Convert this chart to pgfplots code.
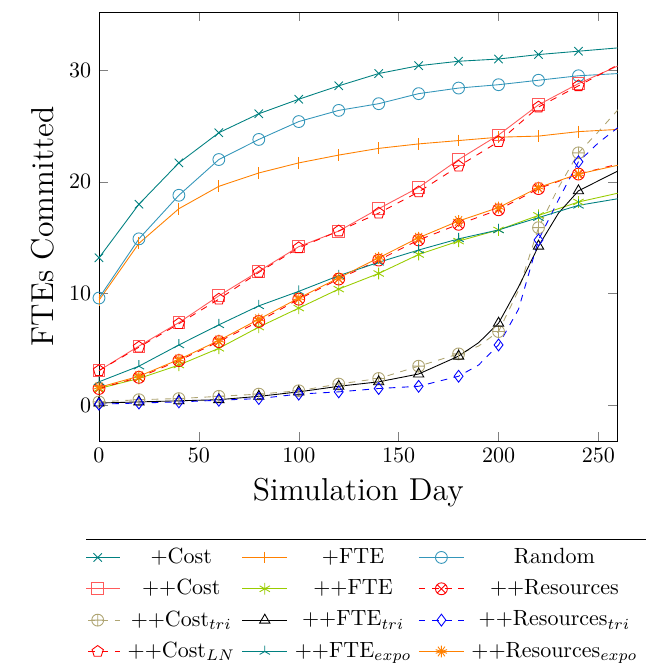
\documentclass[border=0pt]{standalone}
\usepackage{pgfplots}
\pgfplotsset{compat=1.18}
\definecolor{randblue}{RGB}{52,150,186}
\definecolor{olivetri}{RGB}{175,165,115}
\definecolor{costred}{RGB}{255,90,90}

\begin{document}
\begin{tikzpicture}
\begin{scope}
% the legend is cut at the sides and bottom, as in the original
\clip (-45pt,200.5pt) -- (251.8pt,200.5pt) -- (251.8pt,-40.5pt)
      -- (248.6pt,-40.5pt) -- (248.6pt,-101.8pt)
      -- (-5.9pt,-101.8pt) -- (-5.9pt,-40.5pt) -- (-45pt,-40.5pt) -- cycle;
\begin{axis}[
    at={(0pt,0pt)}, anchor=south west,
    scale only axis,
    width=235.8pt, height=195pt,
    xmin=0, xmax=259.6,
    ymin=-3.2, ymax=35.2,
    xtick={0,50,100,150,200,250},
    ytick={0,10,20,30},
    xlabel={\Large Simulation Day},
    ylabel={\Large FTEs Committed},
    every axis plot/.append style={mark size=2.7pt},
    legend columns=3,
    legend cell align=center,
    legend image code/.code={
        \draw[mark indices={2}] plot coordinates {(0cm,0cm) (0.36cm,0cm) (0.72cm,0cm)};},
    legend style={at={(0.5,-0.228)}, anchor=north, font=\normalsize,
                  column sep=1.2pt, row sep=1.7pt},
]
% +Cost
\addplot[teal, mark=x, mark indices={1,...,13}] coordinates {
 (0,13.2) (20,18.0) (40,21.7) (60,24.4) (80,26.1) (100,27.4) (120,28.6)
 (140,29.7) (160,30.4) (180,30.8) (200,31.0) (220,31.4) (240,31.7) (260,32.0)};
\addlegendentry{+Cost}
% +FTE
\addplot[orange, mark=|, mark indices={1,...,13}] coordinates {
 (0,9.4) (20,14.5) (40,17.6) (60,19.6) (80,20.8) (100,21.7) (120,22.4)
 (140,23.0) (160,23.4) (180,23.7) (200,24.0) (220,24.1) (240,24.5) (260,24.7)};
\addlegendentry{+FTE}
% Random
\addplot[randblue, mark=o, mark indices={1,...,13}] coordinates {
 (0,9.6) (20,14.9) (40,18.8) (60,22.0) (80,23.8) (100,25.4) (120,26.4)
 (140,27.0) (160,27.9) (180,28.4) (200,28.7) (220,29.1) (240,29.5) (260,29.7)};
\addlegendentry{Random}
% ++Cost
\addplot[costred, mark=square, mark indices={1,...,13}] coordinates {
 (0,3.1) (20,5.3) (40,7.4) (60,9.8) (80,12.0) (100,14.2) (120,15.6)
 (140,17.6) (160,19.5) (180,22.0) (200,24.2) (220,26.9) (240,28.8) (260,30.4)};
\addlegendentry{++Cost}
% ++FTE
\addplot[lime!80!black, mark=asterisk, mark indices={1,...,13}] coordinates {
 (0,1.5) (20,2.4) (40,3.6) (60,5.1) (80,7.0) (100,8.7) (120,10.4)
 (140,11.8) (160,13.5) (180,14.7) (200,15.7) (220,17.0) (240,18.2) (260,19.0)};
\addlegendentry{++FTE}
% ++Resources
\addplot[red, dashed, mark=otimes, mark options={solid}, mark indices={1,...,13}] coordinates {
 (0,1.5) (20,2.5) (40,4.0) (60,5.7) (80,7.5) (100,9.5) (120,11.3)
 (140,13.0) (160,14.8) (180,16.2) (200,17.5) (220,19.4) (240,20.7) (260,21.6)};
\addlegendentry{++Resources}
% ++Cost_tri
\addplot[olivetri, dashed, mark=oplus, mark options={solid},
    mark indices={1,2,3,4,5,6,7,8,9,10,12,14,16}] coordinates {
 (0,0.3) (20,0.5) (40,0.6) (60,0.8) (80,1.0) (100,1.3) (120,1.9)
 (140,2.4) (160,3.5) (180,4.6) (190,5.3) (200,6.6) (210,10.3) (220,15.9)
 (230,19.5) (240,22.6) (250,24.5) (260,26.5)};
\addlegendentry{++Cost$_{tri}$}
% ++FTE_tri
\addplot[black, mark=triangle, mark indices={1,2,3,4,5,6,7,8,9,10,12,14,16}] coordinates {
 (0,0.2) (20,0.3) (40,0.4) (60,0.5) (80,0.8) (100,1.2) (120,1.7)
 (140,2.1) (160,2.8) (180,4.4) (190,5.6) (200,7.35) (210,10.6) (220,14.25)
 (230,17.2) (240,19.2) (250,20.1) (260,21.0)};
\addlegendentry{++FTE$_{tri}$}
% ++Resources_tri
\addplot[blue, dashed, mark=diamond, mark options={solid},
    mark indices={1,2,3,4,5,6,7,8,9,10,12,14,16}] coordinates {
 (0,0.1) (20,0.2) (40,0.3) (60,0.45) (80,0.6) (100,1.0) (120,1.2)
 (140,1.5) (160,1.7) (180,2.6) (190,3.6) (200,5.4) (210,8.6) (220,14.8)
 (230,18.4) (240,21.8) (250,23.5) (260,24.9)};
\addlegendentry{++Resources$_{tri}$}
% ++Cost_LN
\addplot[red, dashed, mark=pentagon, mark options={solid}, mark indices={1,...,13}] coordinates {
 (0,3.1) (20,5.2) (40,7.3) (60,9.5) (80,11.9) (100,14.1) (120,15.6)
 (140,17.2) (160,19.1) (180,21.4) (200,23.6) (220,26.7) (240,28.6) (260,30.5)};
\addlegendentry{++Cost$_{LN}$}
% ++FTE_expo
\addplot[teal, mark=Mercedes star, mark indices={1,...,13}] coordinates {
 (0,2.1) (20,3.5) (40,5.4) (60,7.2) (80,8.9) (100,10.2) (120,11.6)
 (140,12.8) (160,13.9) (180,14.9) (200,15.7) (220,16.8) (240,17.9) (260,18.5)};
\addlegendentry{++FTE$_{expo}$}
% ++Resources_expo
\addplot[orange, mark=10-pointed star, mark indices={1,...,13}] coordinates {
 (0,1.6) (20,2.6) (40,4.1) (60,5.8) (80,7.7) (100,9.6) (120,11.4)
 (140,13.2) (160,15.0) (180,16.5) (200,17.7) (220,19.5) (240,20.7) (260,21.5)};
\addlegendentry{++Resources$_{expo}$}
\end{axis}
\end{scope}
\pgfresetboundingbox
\useasboundingbox (-45pt,-103.2pt) rectangle (251.8pt,200.5pt);
\end{tikzpicture}
\end{document}
